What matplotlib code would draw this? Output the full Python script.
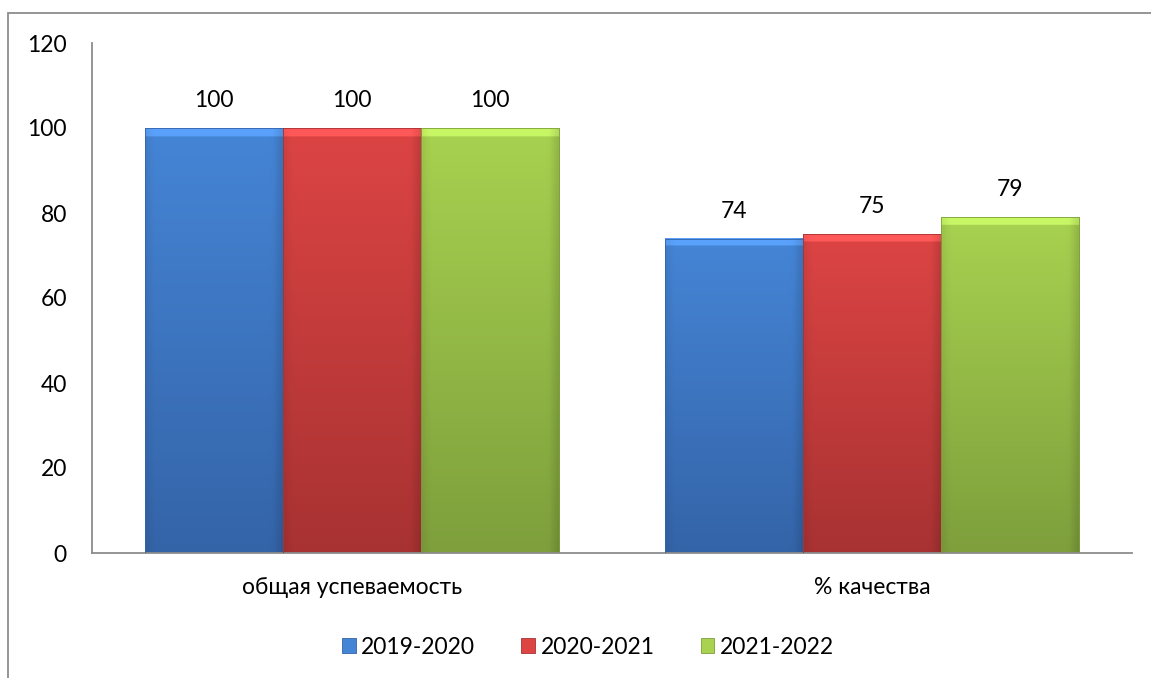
import numpy as np
import matplotlib
matplotlib.use("Agg")
import matplotlib.pyplot as plt
from matplotlib.patches import Rectangle
from matplotlib.colors import to_rgb

categories = ["общая успеваемость", "% качества"]
series_names = ["2019-2020", "2020-2021", "2021-2022"]
values_2019 = [100, 74]
values_2020 = [100, 75]
values_2021 = [100, 79]
yticks = [0, 20, 40, 60, 80, 100, 120]

series_values = [values_2019, values_2020, values_2021]
top_colors = ["#4585D6", "#DD4444", "#A8D250"]
bot_colors = ["#3464A8", "#A83232", "#7E9F3C"]

plt.rcParams['font.family'] = ['Lato', 'DejaVu Sans']
FS = 16.5

fig = plt.figure(figsize=(11.51, 6.78), dpi=100)
# outer chart frame
frame = Rectangle((8/1151, -0.05), 1.2, 1 - 13/678 + 0.05, transform=fig.transFigure,
                  fill=False, edgecolor="#8c8c8c", linewidth=1.3)
fig.patches.append(frame)

ax = fig.add_axes([92/1151, 1 - 553/678, (1132 - 92)/1151, (553 - 43)/678])
ax.set_xlim(-0.5, 1.5)
ax.set_ylim(0, 120)

bar_w = 0.266
x = np.arange(len(categories))

def grad_bar(ax, x0, w, h, ctop, cbot):
    n = 256
    t = np.linspace(0, 1, n)[:, None]  # 0 at bottom
    ct = np.array(to_rgb(ctop)); cb = np.array(to_rgb(cbot))
    col = cb[None, None, :] * (1 - t[..., None]) + ct[None, None, :] * t[..., None]
    col = np.repeat(col, 32, axis=1)
    xs = np.linspace(0, 1, 32)
    edge = 1 - 0.12 * (np.clip((xs - 0.93) / 0.07, 0, 1) + np.clip((0.05 - xs) / 0.05, 0, 1) * 0.5)
    col = col * edge[None, :, None]
    px_per_unit = 510 / 120
    bev = 7 / px_per_unit / h
    top_zone = t[:, 0] > 1 - bev
    col[top_zone] = np.clip(col[top_zone] * 1.12 + 0.05, 0, 1)
    ax.imshow(col, extent=(x0, x0 + w, 0, h), origin='lower', aspect='auto',
              interpolation='bilinear', zorder=2)
    ax.add_patch(Rectangle((x0, 0), w, h, fill=False, edgecolor=to_rgb(cbot),
                           linewidth=0.6, zorder=3))

for i, vals in enumerate(series_values):
    for j, v in enumerate(vals):
        x0 = x[j] + (i - 1.5) * bar_w
        grad_bar(ax, x0, bar_w, v, top_colors[i], bot_colors[i])
        ax.text(x0 + bar_w / 2, v + 4, f"{v}", ha='center', va='bottom',
                fontsize=FS, color="#000000")

ax.set_xlim(-0.5, 1.5)
ax.set_ylim(0, 120)
ax.set_yticks(yticks)
ax.set_yticklabels([str(t) for t in yticks], fontsize=FS)
ax.set_xticks(x)
ax.set_xticklabels(categories, fontsize=FS)
ax.tick_params(axis='both', length=0)
ax.tick_params(axis='y', pad=18)
ax.tick_params(axis='x', pad=17)
for s in ["top", "right"]:
    ax.spines[s].set_visible(False)
ax.spines["left"].set_color("#8c8c8c")
ax.spines["bottom"].set_color("#8c8c8c")
ax.spines["left"].set_linewidth(1.3)
ax.spines["bottom"].set_linewidth(1.3)

handles = [Rectangle((0, 0), 1, 1, facecolor=top_colors[i], edgecolor=bot_colors[i], linewidth=0.6)
           for i in range(3)]
fig.legend(handles, series_names, loc='center', bbox_to_anchor=(588/1151, 1 - 647/678),
           ncol=3, frameon=False, fontsize=FS, handlelength=0.6, handleheight=0.6,
           handletextpad=0.25, columnspacing=2.0)

fig.savefig("out.png", dpi=100)
